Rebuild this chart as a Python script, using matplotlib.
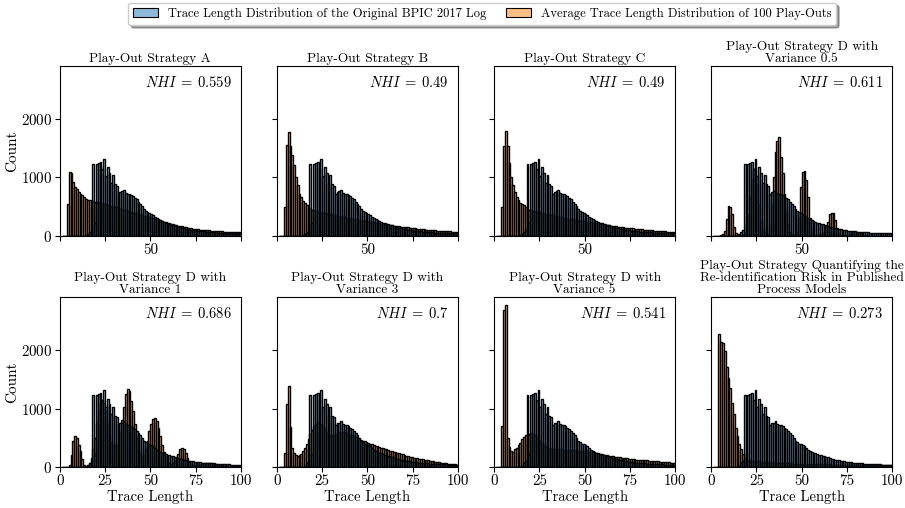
import numpy as np
import matplotlib
matplotlib.use("Agg")
import matplotlib.pyplot as plt
from matplotlib.patches import Patch
from matplotlib.colors import to_rgba

plt.rcParams['font.family'] = 'serif'
plt.rcParams['font.serif'] = ['cmr10']
plt.rcParams['mathtext.fontset'] = 'cm'
plt.rcParams['axes.formatter.use_mathtext'] = True
plt.rcParams['axes.unicode_minus'] = False
plt.rcParams['font.size'] = 10

# trace lengths 1..99 (one bin per length)
lengths = np.arange(1, 100)

# original BPIC 2017 log
original = [
    0, 0, 0, 0, 0, 0, 0, 0, 0, 0,
    0, 0, 0, 5, 20, 60, 100, 1230, 220, 1230,
    1250, 1260, 1150, 1320, 1020, 1170, 1080, 900, 1030, 880,
    850, 720, 750, 760, 780, 730, 720, 710, 700, 670,
    650, 620, 580, 540, 500, 450, 420, 400, 385, 370,
    350, 320, 295, 275, 260, 245, 232, 220, 210, 200,
    190, 180, 172, 162, 150, 140, 130, 122, 116, 110,
    104, 98, 94, 90, 86, 82, 78, 74, 70, 66,
    63, 60, 58, 56, 54, 52, 50, 48, 46, 44,
    43, 42, 41, 40, 39, 38, 37, 36, 35,
]

strategy_a = [
    0, 0, 0, 536, 1095, 1066, 922, 836, 790, 750,
    720, 690, 663, 634, 617, 605, 595, 585, 580, 576,
    568, 560, 552, 544, 536, 528, 520, 512, 504, 496,
    488, 478, 468, 458, 448, 438, 428, 418, 408, 398,
    388, 378, 368, 358, 348, 340, 332, 324, 317, 310,
    300, 290, 280, 270, 260, 250, 240, 230, 220, 210,
    202, 194, 186, 178, 170, 163, 156, 149, 142, 136,
    130, 125, 120, 115, 111, 107, 103, 99, 96, 93,
    90, 87, 84, 81, 78, 76, 74, 72, 70, 68,
    66, 64, 62, 61, 60, 59, 58, 57, 56,
]

strategy_b = [
    0, 0, 0, 490, 1560, 1780, 1530, 1380, 1210, 1010,
    870, 720, 660, 600, 550, 520, 490, 465, 445, 430,
    425, 418, 411, 404, 397, 390, 383, 376, 369, 362,
    355, 348, 341, 334, 327, 320, 313, 306, 300, 294,
    288, 282, 276, 270, 265, 260, 255, 250, 245, 240,
    235, 230, 225, 220, 215, 210, 205, 200, 195, 190,
    185, 180, 175, 170, 166, 162, 158, 154, 150, 146,
    142, 138, 134, 130, 126, 122, 118, 115, 112, 109,
    106, 103, 100, 97, 94, 91, 88, 85, 82, 79,
    77, 75, 73, 71, 69, 67, 65, 63, 61,
]

strategy_c = [
    0, 0, 0, 490, 1540, 1790, 1540, 1240, 1010, 865,
    750, 665, 605, 565, 545, 520, 490, 465, 445, 430,
    424, 417, 410, 403, 396, 389, 382, 375, 368, 361,
    354, 347, 340, 333, 326, 319, 312, 305, 299, 293,
    287, 281, 275, 269, 264, 259, 254, 249, 244, 239,
    234, 229, 224, 219, 214, 209, 204, 199, 194, 189,
    184, 179, 174, 169, 165, 161, 157, 153, 149, 145,
    141, 137, 133, 129, 125, 121, 117, 114, 111, 108,
    105, 102, 99, 96, 93, 90, 87, 84, 81, 78,
    76, 74, 72, 70, 68, 66, 64, 62, 60,
]

variance_05 = [
    0, 0, 0, 0, 10, 30, 80, 280, 500, 490,
    370, 150, 50, 15, 5, 0, 10, 50, 150, 350,
    650, 950, 1150, 1120, 880, 520, 250, 100, 40, 15,
    30, 150, 500, 1000, 1440, 1620, 1690, 1350, 1070, 720,
    400, 180, 60, 20, 10, 15, 60, 300, 840, 1095,
    1100, 950, 660, 300, 100, 30, 10, 5, 10, 20,
    40, 100, 160, 230, 375, 390, 392, 260, 130, 50,
    15, 5, 3, 5, 15, 30, 45, 55, 60, 58,
    50, 35, 20, 10, 5, 2, 0, 0, 0, 0,
    0, 0, 0, 0, 0, 0, 0, 0, 0,
]

variance_1 = [
    0, 0, 0, 0, 40, 210, 440, 530, 500, 380,
    270, 130, 40, 20, 30, 60, 150, 300, 500, 750,
    950, 1100, 1150, 1100, 950, 750, 550, 420, 380, 380,
    350, 450, 600, 800, 1020, 1250, 1330, 1305, 1130, 960,
    730, 500, 330, 220, 180, 200, 300, 450, 615, 730,
    816, 845, 787, 672, 529, 380, 250, 160, 100, 70,
    55, 70, 100, 155, 213, 299, 328, 299, 241, 155,
    90, 55, 40, 35, 35, 38, 42, 50, 58, 64,
    68, 70, 70, 66, 58, 48, 38, 28, 20, 14,
    10, 7, 5, 4, 3, 2, 2, 1, 1,
]

variance_3 = [
    0, 0, 0, 241, 1075, 1391, 684, 328, 241, 201,
    184, 195, 224, 270, 328, 385, 471, 560, 640, 700,
    740, 760, 760, 740, 700, 650, 600, 570, 555, 550,
    555, 565, 580, 590, 595, 595, 590, 580, 570, 555,
    540, 525, 510, 495, 480, 466, 452, 438, 424, 410,
    398, 386, 374, 362, 350, 340, 330, 320, 310, 300,
    290, 280, 270, 260, 250, 242, 234, 226, 218, 210,
    190, 182, 174, 166, 158, 152, 146, 140, 134, 128,
    122, 116, 110, 104, 98, 93, 88, 83, 78, 73,
    68, 64, 60, 56, 52, 49, 46, 43, 40,
]

variance_5 = [
    0, 0, 0, 701, 2684, 2770, 489, 345, 270, 259,
    299, 328, 374, 414, 471, 511, 540, 557, 570, 575,
    569, 550, 529, 490, 443, 410, 380, 350, 328, 315,
    305, 300, 299, 299, 299, 299, 298, 296, 294, 292,
    290, 288, 286, 284, 282, 280, 278, 276, 274, 271,
    265, 260, 254, 247, 241, 235, 229, 223, 217, 211,
    205, 199, 193, 187, 182, 177, 172, 167, 162, 157,
    152, 148, 144, 140, 136, 132, 129, 126, 123, 120,
    117, 115, 113, 110, 107, 104, 101, 98, 95, 92,
    89, 86, 83, 80, 78, 76, 74, 72, 70,
]

quantifying = [
    0, 0, 0, 2280, 2140, 2120, 1990, 1710, 1530, 1360,
    1100, 900, 670, 530, 385, 300, 213, 155, 130, 118,
    112, 108, 104, 100, 97, 94, 91, 88, 85, 82,
    80, 78, 76, 74, 72, 70, 68, 66, 64, 62,
    61, 60, 59, 58, 57, 56, 55, 54, 53, 52,
    51, 50, 49, 48, 47, 46, 45, 44, 43, 42,
    42, 42, 41, 41, 41, 40, 40, 40, 40, 40,
    40, 40, 40, 40, 40, 40, 40, 40, 40, 40,
    40, 40, 40, 40, 40, 40, 40, 40, 40, 40,
    40, 40, 40, 40, 40, 40, 40, 40, 40,
]

titles = [
    "Play-Out Strategy A",
    "Play-Out Strategy B",
    "Play-Out Strategy C",
    "Play-Out Strategy D with\nVariance 0.5",
    "Play-Out Strategy D with\nVariance 1",
    "Play-Out Strategy D with\nVariance 3",
    "Play-Out Strategy D with\nVariance 5",
    "Play-Out Strategy Quantifying the\nRe-identification Risk in Published\nProcess Models",
]
playouts = [strategy_a, strategy_b, strategy_c, variance_05,
            variance_1, variance_3, variance_5, quantifying]
nhi = ["0.559", "0.49", "0.49", "0.611", "0.686", "0.7", "0.541", "0.273"]

xticks = [0, 25, 50, 75, 100]

blue = to_rgba('#1f77b4', 0.5)
orange = to_rgba('#ff7f0e', 0.5)

fig, axes = plt.subplots(2, 4, figsize=(9.05, 5.08), dpi=100, sharey=True)
fig.subplots_adjust(left=0.066, right=0.986, top=0.870, bottom=0.081,
                    wspace=0.199, hspace=0.365)

for i, ax in enumerate(axes.flat):
    ax.bar(lengths, playouts[i], width=1, align='edge', color=orange,
           edgecolor='black', linewidth=1.0)
    ax.bar(lengths, original, width=1, align='edge', color=blue,
           edgecolor='black', linewidth=1.0)
    ax.set_title(titles[i], fontsize=9.6, linespacing=1.0, pad=3)
    ax.text(0.95, 0.95, r"$NHI\:=\:" + nhi[i] + "$", transform=ax.transAxes,
            ha='right', va='top', fontsize=10.5)
    ax.set_xlim(0, 100)
    ax.set_xticks(xticks)
    ax.set_yticks([0, 1000, 2000])
    ax.tick_params(labelsize=10.8, pad=2)

for ax in axes[0]:
    ax.set_xticklabels(['', '', '50', '', ''])
for ax in axes[1]:
    ax.set_xticklabels([str(t) for t in xticks])
    ax.set_xlabel("Trace Length", fontsize=10.5, labelpad=1)
for ax in axes[:, 0]:
    ax.set_ylabel("Count", fontsize=11, labelpad=1)

handles = [Patch(facecolor=blue, edgecolor='black', linewidth=0.8),
           Patch(facecolor=orange, edgecolor='black', linewidth=0.8)]
fig.legend(handles, ["Trace Length Distribution of the Original BPIC 2017 Log",
                     "Average Trace Length Distribution of 100 Play-Outs"],
           loc='upper center', bbox_to_anchor=(0.533, 1.0), ncol=2,
           fontsize=9.0, shadow=True, handlelength=2.0, columnspacing=1.5,
           borderaxespad=0.2)

fig.savefig("out.png", dpi=100)
